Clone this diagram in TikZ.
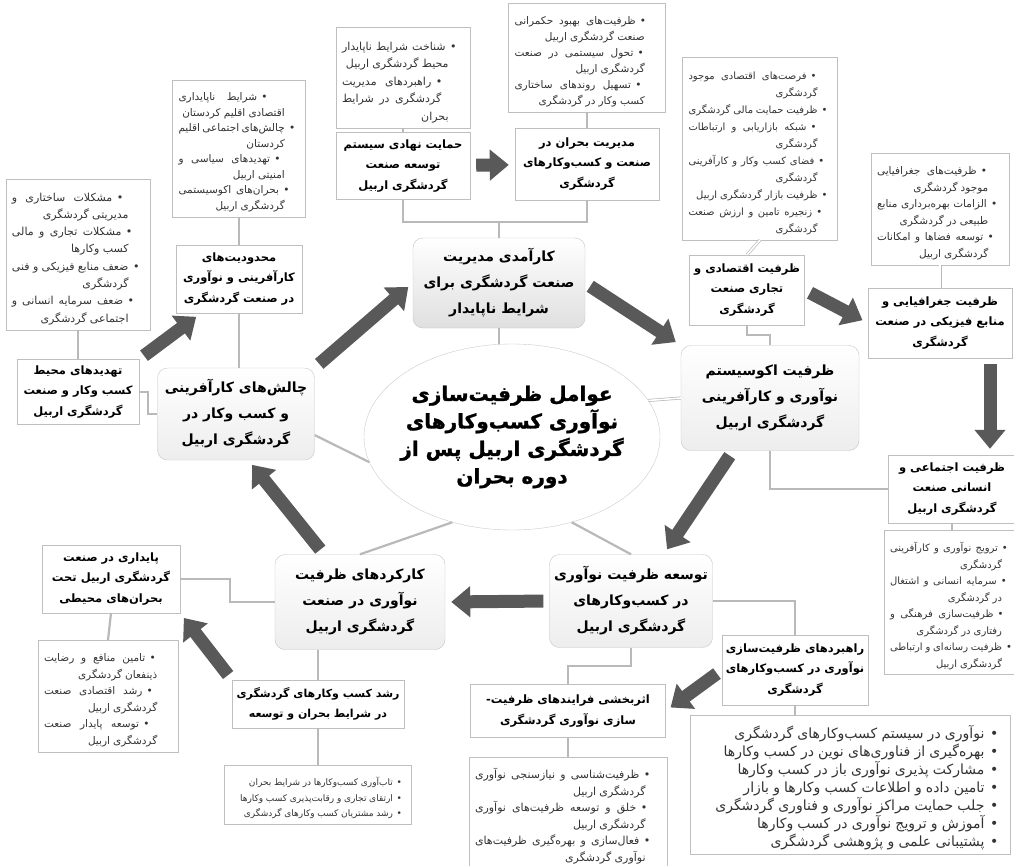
\documentclass[tikz,border=0pt]{standalone}
\usepackage{fontspec}
\setmainfont[Script=Arabic]{DejaVu Sans}
\newfontfamily\heavyfont[Script=Arabic,FakeBold=1.3]{DejaVu Sans Bold}
\usetikzlibrary{arrows.meta,shapes.geometric}
\TeXXeTstate=1
\tolerance=9000
\hbadness=10000
\emergencystretch=1em
\newcommand{\nj}{^^^^200c}
\newcommand{\rl}[1]{\beginR#1\endR}
\newcommand{\bitem}[1]{\par\hangindent=-1.4em\hangafter=1\parfillskip=0pt\spaceskip=0.3em plus 0.6em minus 0.1em\noindent\beginR\makebox[1.4em][c]{\textbullet}#1\hfil\endR\par}

\begin{document}
\begin{tikzpicture}[x=1pt, y=-1pt,
	bullbox/.style={draw=gray!50, fill=white, text width=#1, inner xsep=6pt, inner ysep=5pt, text=black!80, font=\fontsize{10.5}{16.5}\selectfont},
	headbox/.style={draw=gray!50, fill=white, align=center, inner sep=3pt, font=\bfseries\fontsize{11.5}{20.5}\selectfont},
	roundbox/.style={draw=gray!45, rounded corners=10pt, top color=white, bottom color=gray!14, align=center, inner sep=3pt, font=\bfseries\fontsize{14}{26}\selectfont},
	link/.style={draw=gray!55, line width=2.2pt},
	dlink/.style={draw=gray!55, double=white, double distance=1.6pt, line width=0.7pt},
	bigarrow/.style={draw=black!65, line width=13pt, -{Triangle[width=30pt,length=19pt]}, shorten <=6pt, shorten >=6pt}]
	\path[use as bounding box, fill=white] (0,0) rectangle (1014,865);
	
	\node[ellipse, draw=gray!40, fill=white, minimum width=296, minimum height=186, inner xsep=-30pt, inner ysep=-25pt, align=center, font=\heavyfont\fontsize{20}{27.5}\selectfont] (core) at (512,437) {\rl{عوامل ظرفیت\nj سازی}\\\rl{نوآوری کسب\nj وکارهای}\\\rl{گردشگری اربیل پس از}\\\rl{دوره بحران}};
	
	\node[roundbox, bottom color=gray!25, minimum width=172, minimum height=90] (karamadi) at (499,283) {\rl{کارآمدی مدیریت}\\\rl{صنعت گردشگری برای}\\\rl{شرایط ناپایدار}};
	\node[roundbox, minimum width=157, minimum height=92] (chalesh) at (236,414) {\rl{چالش\nj های کارآفرینی}\\\rl{و کسب وکار در}\\\rl{گردشگری اربیل}};
	\node[roundbox, minimum width=178, minimum height=105] (eco) at (770,398) {\rl{ظرفیت اکوسیستم}\\\rl{نوآوری و کارآفرینی}\\\rl{گردشگری اربیل}};
	\node[roundbox, minimum width=163, minimum height=93] (tose) at (631,601) {\rl{توسعه ظرفیت نوآوری}\\\rl{در کسب\nj وکارهای}\\\rl{گردشگری اربیل}};
	\node[roundbox, minimum width=170, minimum height=95] (karkard) at (360,602) {\rl{کارکردهای ظرفیت}\\\rl{نوآوری در صنعت}\\\rl{گردشگری اربیل}};
	
	\node[headbox, minimum width=134, minimum height=67] (hA) at (403,166) {\rl{حمایت نهادی سیستم}\\\rl{توسعه صنعت}\\\rl{گردشگری اربیل}};
	\node[headbox, minimum width=144, minimum height=72] (hB) at (587,164) {\rl{مدیریت بحران در}\\\rl{صنعت و کسب\nj وکارهای}\\\rl{گردشگری}};
	\node[headbox, minimum width=122, minimum height=65] (hC) at (78,392) {\rl{تهدیدهای محیط}\\\rl{کسب وکار و صنعت}\\\rl{گردشگری اربیل}};
	\node[headbox, minimum width=126, minimum height=68] (hD) at (239,279) {\rl{محدودیت\nj های}\\\rl{کارآفرینی و نوآوری}\\\rl{در صنعت گردشگری}};
	\node[headbox, minimum width=115, minimum height=70] (hE) at (747,290) {\rl{ظرفیت اقتصادی و}\\\rl{تجاری صنعت}\\\rl{گردشگری}};
	\node[headbox, minimum width=144, minimum height=70] (hF) at (940,323) {\rl{ظرفیت جغرافیایی و}\\\rl{منابع فیزیکی در صنعت}\\\rl{گردشگری}};
	\node[headbox, minimum width=127, minimum height=68] (hG) at (952,489) {\rl{ظرفیت اجتماعی و}\\\rl{انسانی صنعت}\\\rl{گردشگری اربیل}};
	\node[headbox, minimum width=146, minimum height=70] (hH) at (795,670) {\rl{راهبردهای ظرفیت\nj سازی}\\\rl{نوآوری در کسب\nj وکارهای}\\\rl{گردشگری}};
	\node[headbox, minimum width=195, minimum height=53] (hI) at (568,711) {\rl{اثربخشی فرایندهای ظرفیت\mbox{-}}\\\rl{سازی نوآوری گردشگری}};
	\node[headbox, minimum width=138, minimum height=68] (hJ) at (111,579) {\rl{پایداری در صنعت}\\\rl{گردشگری اربیل تحت}\\\rl{بحران\nj های محیطی}};
	\node[headbox, minimum width=172, minimum height=48, font=\bfseries\fontsize{11}{20.5}\selectfont] (hK) at (318,704) {\rl{رشد کسب وکارهای گردشگری}\\\rl{در شرایط بحران و توسعه}};
	
	\node[bullbox=122, anchor=south, font=\fontsize{11}{17.5}\selectfont] (bA) at (403,128) {\bitem{شناخت شرایط ناپایدار محیط گردشگری اربیل}
		\bitem{راهبردهای مدیریت گردشگری در شرایط بحران}};
	\node[bullbox=145, anchor=south, font=\fontsize{10.5}{16}\selectfont] (bB) at (587,112) {\bitem{ظرفیت\nj های بهبود حکمرانی صنعت گردشگری اربیل}
		\bitem{تحول سیستمی در صنعت گردشگری اربیل}
		\bitem{تسهیل روندهای ساختاری کسب وکار در گردشگری}};
	\node[bullbox=132, anchor=south, font=\fontsize{11}{17.3}\selectfont] (bC) at (78,330) {\bitem{مشکلات ساختاری و مدیریتی گردشگری}
		\bitem{مشکلات تجاری و مالی کسب وکارها}
		\bitem{ضعف منابع فیزیکی و فنی گردشگری}
		\bitem{ضعف سرمایه انسانی و اجتماعی گردشگری}};
	\node[bullbox=121, anchor=south, font=\fontsize{10.5}{15.5}\selectfont] (bD) at (239,217) {\bitem{شرایط ناپایداری اقتصادی اقلیم کردستان}
		\bitem{چالش\nj های اجتماعی اقلیم کردستان}
		\bitem{تهدیدهای سیاسی و امنیتی اربیل}
		\bitem{بحران\nj های اکوسیستمی گردشگری اربیل}};
	\node[bullbox=143, anchor=south, font=\fontsize{10}{17}\selectfont] (bE) at (760,240) {\bitem{فرصت\nj های اقتصادی موجود گردشگری}
		\bitem{ظرفیت حمایت مالی گردشگری}
		\bitem{شبکه بازاریابی و ارتباطات گردشگری}
		\bitem{فضای کسب وکار و کارآفرینی گردشگری}
		\bitem{ظرفیت بازار گردشگری اربیل}
		\bitem{زنجیره تامین و ارزش صنعت گردشگری}};
	\node[bullbox=126, anchor=south] (bF) at (940,265) {\bitem{ظرفیت\nj های جغرافیایی موجود گردشگری}
		\bitem{الزامات بهره\nj برداری منابع طبیعی در گردشگری}
		\bitem{توسعه فضاها و امکانات گردشگری اربیل}};
	\node[bullbox=126, anchor=north, font=\fontsize{10}{16.5}\selectfont] (bG) at (953,530) {\bitem{ترویج نوآوری و کارآفرینی گردشگری}
		\bitem{سرمایه انسانی و اشتغال در گردشگری}
		\bitem{ظرفیت\nj سازی فرهنگی و رفتاری در گردشگری}
		\bitem{ظرفیت رسانه\nj ای و ارتباطی گردشگری اربیل}};
	\node[bullbox=308, anchor=north, font=\fontsize{14}{18}\selectfont] (bH) at (850,715) {\bitem{نوآوری در سیستم کسب\nj وکارهای گردشگری}
		\bitem{بهره\nj گیری از فناوری\nj های نوین در کسب وکارها}
		\bitem{مشارکت پذیری نوآوری باز در کسب وکارها}
		\bitem{تامین داده و اطلاعات کسب وکارها و بازار}
		\bitem{جلب حمایت مراکز نوآوری و فناوری گردشگری}
		\bitem{آموزش و ترویج نوآوری در کسب وکارها}
		\bitem{پشتیبانی علمی و پژوهشی گردشگری}};
	\node[bullbox=186, anchor=north, font=\fontsize{11}{16.5}\selectfont] (bI) at (568,757) {\bitem{ظرفیت\nj شناسی و نیازسنجی نوآوری گردشگری اربیل}
		\bitem{خلق و توسعه ظرفیت\nj های نوآوری گردشگری اربیل}
		\bitem{فعال\nj سازی و بهره\nj گیری ظرفیت\nj های نوآوری گردشگری}};
	\node[bullbox=128, anchor=north] (bJ) at (108,640) {\bitem{تامین منافع و رضایت ذینفعان گردشگری}
		\bitem{رشد اقتصادی صنعت گردشگری اربیل}
		\bitem{توسعه پایدار صنعت گردشگری اربیل}};
	\node[bullbox=175, anchor=north, font=\fontsize{9}{15.5}\selectfont] (bK) at (318,765) {\bitem{تاب\nj آوری کسب\nj وکارها در شرایط بحران}
		\bitem{ارتقای تجاری و رقابت\nj پذیری کسب وکارها}
		\bitem{رشد مشتریان کسب وکارهای گردشگری}};
	
	\coordinate (bar) at (0,222);
	\coordinate (gx) at (990,0);
	
	\draw[link] (bA) -- (hA);
	\draw[link] (bB) -- (hB);
	\draw[link] (bC) -- (hC);
	\draw[link] (bD) -- (hD);
	\draw[dlink] (bE.south) -- (hE.north);
	\draw[dlink] (bF) -- (hF);
	\draw[link] (hG.south) -- (hG.south |- bG.north);
	\draw[link] (hH) -- (hH |- bH.north);
	\draw[link] (hI) -- (bI);
	\draw[link] (hJ.south) -- (bJ.north);
	\draw[link] (hK) -- (bK);
	
	\draw[link] (hA.south) |- (hB.south |- bar) -- (hB.south);
	\draw[link] (karamadi.north) -- (karamadi.north |- bar);
	\draw[link] (hD) -- (hD |- chalesh.north);
	\draw[link] (hC.east) -- ++(9,0) |- (chalesh.west);
	\draw[link] (hE.south) -- ++(0,10) -| (eco.north);
	\draw[link] (eco.south) |- (hG.west);
	\draw[link] (tose.east) -| (hH.north);
	\draw[link] (tose.south) -- ++(0,18) -| (hI.north);
	\draw[link] (hK) -- (hK |- karkard.south);
	\draw[link] (hJ.east) -- ++(50,0) |- (karkard.west);
	
	\draw[link] (karamadi.south) -- (karamadi.south |- core.north);
	\draw[link] (chalesh.-15) -- (core.190);
	\draw[link] (karkard.north) -- (core.235);
	\draw[link] (tose.north) -- (core.-55);
	\draw[dlink] (core.15) -- (eco.west);
	
	\draw[bigarrow] (hA) -- (hB);
	\draw[bigarrow] (chalesh.north east) -- (karamadi.west);
	\draw[bigarrow] (karamadi.east) -- (eco.north west);
	\draw[bigarrow] (eco.-125) -- (tose.55);
	\draw[bigarrow] (tose.west) -- (karkard.east);
	\draw[bigarrow] (karkard.127) -- (chalesh.-75);
	\draw[bigarrow] (hK.north west) -- (hJ.south east);
	\draw[bigarrow] (hC.north east) -- (hD.-138);
	\draw[bigarrow] (hE.east) -- (hF.west);
	\draw[bigarrow] (hF.south -| gx) -- (hG.north -| gx);
	\draw[bigarrow] (hH.west) -- (hI.east);
\end{tikzpicture}
\end{document}
